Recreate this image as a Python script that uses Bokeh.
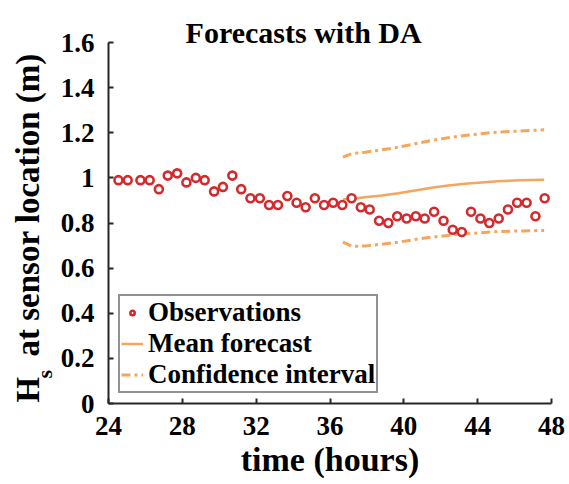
import math
from bokeh.plotting import figure
from bokeh.layouts import row
from bokeh.models import Range1d, Label, Legend, LegendItem, FixedTicker
from bokeh.embed import file_html
from bokeh.resources import INLINE

# ---------------- data ----------------
obs_time = [24.54, 25.04, 25.73, 26.23, 26.73, 27.21, 27.72, 28.22, 28.73, 29.21,
            29.72, 30.20, 30.71, 31.19, 31.69, 32.20, 32.70, 33.18, 33.69, 34.19,
            34.68, 35.18, 35.68, 36.17, 36.67, 37.17, 37.67, 38.15, 38.66, 39.16,
            39.64, 40.15, 40.65, 41.13, 41.64, 42.15, 42.65, 43.14, 43.64, 44.15,
            44.63, 45.14, 45.64, 46.14, 46.65, 47.13, 47.63]
obs_hs = [0.99, 0.99, 0.99, 0.99, 0.95, 1.01, 1.02, 0.98, 1.00, 0.99,
          0.94, 0.96, 1.01, 0.95, 0.91, 0.91, 0.88, 0.88, 0.92, 0.89,
          0.87, 0.91, 0.88, 0.89, 0.88, 0.91, 0.87, 0.86, 0.81, 0.80,
          0.83, 0.82, 0.83, 0.82, 0.85, 0.81, 0.77, 0.76, 0.85, 0.82,
          0.80, 0.82, 0.86, 0.89, 0.89, 0.83, 0.91]

fc_time = [36.7, 37.2, 37.9, 38.8, 39.7, 40.6, 41.5, 42.4, 43.3, 44.2, 45.1, 46.3, 47.6]
fc_mean = [0.904, 0.907, 0.914, 0.922, 0.932, 0.944, 0.956, 0.966, 0.974, 0.980, 0.985, 0.989, 0.992]
fc_upper = [1.092, 1.108, 1.114, 1.124, 1.136, 1.151, 1.166, 1.178, 1.188, 1.196, 1.203, 1.208, 1.213]
fc_lower = [0.715, 0.697, 0.698, 0.706, 0.715, 0.727, 0.737, 0.745, 0.752, 0.757, 0.762, 0.765, 0.767]

x_ticks = [24, 28, 32, 36, 40, 44, 48]
y_ticks = [0, 0.2, 0.4, 0.6, 0.8, 1, 1.2, 1.4, 1.6]
y_tick_labels = ["0", "0.2", "0.4", "0.6", "0.8", "1", "1.2", "1.4", "1.6"]

title_text = "Forecasts with DA"
xlabel_text = "time (hours)"
ylabel_main = "H"
ylabel_sub = "s"
ylabel_rest = "at sensor location (m)"
legend_labels = ["Observations", "Mean forecast", "Confidence interval"]

# ---------------- styling ----------------
FONT = "Liberation Serif"
ORANGE = "#F5A55C"
RED = "#D42A2E"
AXIS = "#262626"

W, H = 569, 484
GUTTER = 57
X0, X1, Y0, Y1 = 24, 48, 0, 1.6
# frame pixel geometry on the page
FL, FR, FT, FB = 106, 551, 42, 403
Y_TOP = Y0 + (FB - 0) * (Y1 - Y0) / (FB - FT)   # frame extends up to the page top


def dx(px):
    return X0 + (px - FL) * (X1 - X0) / (FR - FL)


def dy(py):
    return Y0 + (FB - py) * (Y1 - Y0) / (FB - FT)


p = figure(width=W - GUTTER, height=H, x_range=Range1d(X0, X1), y_range=Range1d(Y0, Y_TOP),
           output_backend="svg", toolbar_location=None, title=None,
           min_border_left=FL - GUTTER, min_border_right=W - FR,
           min_border_top=0, min_border_bottom=H - FB)
p.outline_line_color = None
p.grid.visible = False

for ax in (p.xaxis[0], p.yaxis[0]):
    ax.axis_line_color = AXIS
    ax.axis_line_width = 2
    ax.major_tick_line_color = AXIS
    ax.major_tick_line_width = 2
    ax.major_tick_in = 5
    ax.major_tick_out = 0
    ax.minor_tick_line_color = None
    ax.major_label_text_font = FONT
    ax.major_label_text_font_style = "bold"
    ax.major_label_text_font_size = "27px"
    ax.major_label_text_color = "black"

p.xaxis.ticker = FixedTicker(ticks=x_ticks)
p.yaxis.ticker = FixedTicker(ticks=y_ticks)
p.yaxis.bounds = (Y0, Y1)
p.yaxis.major_label_overrides = {t: s for t, s in zip(y_ticks, y_tick_labels)}
p.xaxis.major_label_standoff = 13
p.yaxis.major_label_standoff = 14

p.xaxis.axis_label = xlabel_text
p.xaxis.axis_label_text_font = FONT
p.xaxis.axis_label_text_font_style = "bold"
p.xaxis.axis_label_text_font_size = "34px"
p.xaxis.axis_label_text_color = "black"
p.xaxis.axis_label_standoff = 3

# ---------------- glyphs ----------------
r_up = p.line(fc_time, fc_upper, line_color=ORANGE, line_width=3, line_dash="9 4 3 4")
r_lo = p.line(fc_time, fc_lower, line_color=ORANGE, line_width=3, line_dash="9 4 3 4")
r_mean = p.line(fc_time, fc_mean, line_color=ORANGE, line_width=2.5)
r_obs = p.scatter(obs_time, obs_hs, marker="circle", size=8, line_color=RED,
                  line_width=2.6, fill_color="white")

legend = Legend(items=[LegendItem(label=legend_labels[0], renderers=[r_obs]),
                       LegendItem(label=legend_labels[1], renderers=[r_mean]),
                       LegendItem(label=legend_labels[2], renderers=[r_up])],
                location="bottom_left")
legend.margin = 10
legend.padding = 1
legend.spacing = 0
legend.glyph_width = 22
legend.glyph_height = 11
legend.label_standoff = 5
legend.label_text_font = FONT
legend.label_text_font_style = "bold"
legend.label_text_font_size = "27px"
legend.label_text_color = "black"
legend.border_line_color = AXIS
legend.border_line_width = 2
legend.background_fill_alpha = 1
p.add_layout(legend, "center")

p.add_layout(Label(x=dx(302), y=dy(32), text=title_text, text_font=FONT,
                   text_font_style="bold", text_font_size="30px", text_color="black",
                   text_align="center", text_baseline="alphabetic"))

# ---------------- y-label gutter (frame aligned with the main frame) ----------------
g = figure(width=GUTTER, height=H, x_range=Range1d(0, GUTTER), y_range=Range1d(0, FB),
           output_backend="svg", toolbar_location=None, title=None,
           x_axis_type=None, y_axis_type=None,
           min_border_left=0, min_border_right=0, min_border_top=0,
           min_border_bottom=H - FB)
g.outline_line_color = None


def glab(text, px, py, size):
    g.add_layout(Label(x=px, y=FB - py, text=text, text_font=FONT, text_font_style="bold",
                       text_font_size=size, text_color="black", angle=math.pi / 2,
                       text_align="left", text_baseline="alphabetic"))


glab(ylabel_main, 27, 402, "33px")
glab(ylabel_sub, 44, 378, "22px")
glab(ylabel_rest, 27, 356, "33px")

layout = row(g, p)
open("out.html", "w").write(file_html(layout, INLINE))
